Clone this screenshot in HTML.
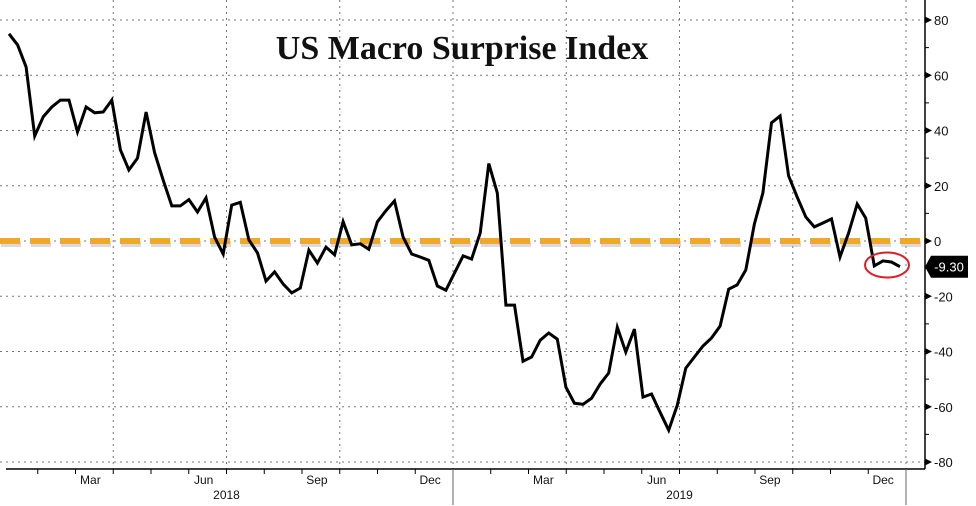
<!DOCTYPE html>
<html><head><meta charset="utf-8"><style>
body{margin:0;background:#fff}
svg{display:block;font-family:"Liberation Sans",sans-serif}
</style></head><body>
<svg id="chart" width="976" height="506" viewBox="0 0 976 506">
<g id="grid"></g>
<line x1="0" y1="241" x2="925" y2="241" stroke="#999" stroke-width="6" stroke-dasharray="20,10" opacity="0.35" transform="translate(1,3)"/>
<line x1="0" y1="241" x2="925" y2="241" stroke="#f0a828" stroke-width="6" stroke-dasharray="20,10"/>
<g id="series"></g>
<ellipse cx="887" cy="265" rx="22" ry="12.5" fill="none" stroke="#d8202a" stroke-width="2"/>
<text x="462" y="59" text-anchor="middle" font-family="Liberation Serif, serif" font-weight="bold" font-size="34" fill="#111">US Macro Surprise Index</text>
<g id="axes"></g>
</svg>
<script>
const weeks = [];
const values = [75,71,63,38,45,48.5,51,51,39.5,48.5,46.4,46.7,51,33,25.7,30,46.7,32,22,12.7,12.7,15,10.5,15.6,1.4,-4.7,13,14,0.4,-4.3,-14.5,-11.2,-15.6,-18.8,-17,-3.3,-8,-2.2,-5,7,-1.4,-1,-3,7,11,14.5,1.4,-4.7,-5.8,-7,-16.3,-17.8,-11.6,-5.4,-6.5,2.9,28,17.4,-23.2,-23.2,-43.5,-42,-35.9,-33.3,-35.5,-52.9,-58.7,-59.1,-56.9,-51.8,-47.8,-31.2,-40.2,-31.9,-56.5,-55.4,-62,-68.5,-59.4,-46,-42,-38,-35.1,-30.8,-17.4,-15.9,-10.5,6.2,17.4,42.8,45.3,23.6,15.9,8.7,5.1,6.5,8,-5.8,2.9,13.4,8.3,-9,-7.2,-7.6,-9.3];
for (let i = 0; i < values.length; i++) weeks.push(i);
const yTicks = [80,60,40,20,0,-20,-40,-60,-80];
const monthLabels = ["Mar","Jun","Sep","Dec","Mar","Jun","Sep","Dec"];
const monthLabelIdx = [2,5,8,11,14,17,20,23];
const yearLabels = ["2018","2019"];
const lastValue = "-9.30";

const NS = "http://www.w3.org/2000/svg";
const X0 = 0, MW = 37.75;
const xMonth = m => X0 + m * MW;
const xWeek = i => 9 + i * (891 / 104);
const y = v => 241 - v * 2.7625;
function mk(tag, attrs, parent) { const e = document.createElementNS(NS, tag); for (const k in attrs) e.setAttribute(k, attrs[k]); parent.appendChild(e); return e; }

const grid = document.getElementById('grid');
yTicks.forEach(t => {
  const l = mk('line', {x1:0, x2:925, y1:y(t), y2:y(t), stroke:'#777', 'stroke-width':1, 'stroke-dasharray':'2,4'}, grid);
  
  
});
for (let q = 1; q <= 8; q++) {
  const gx = xMonth(3 * q);
  const l = mk('line', {x1:gx, x2:gx, y1:0, y2:469, stroke:'#777', 'stroke-width':1, 'stroke-dasharray':'2,4'}, grid);
  
  
}

const series = document.getElementById('series');
const pts = weeks.map(i => xWeek(i).toFixed(1) + ',' + y(values[i]).toFixed(1)).join(' ');
const pl = mk('polyline', {points:pts, fill:'none', stroke:'#000', 'stroke-width':3, 'stroke-linejoin':'miter'}, series);



const axes = document.getElementById('axes');
const ya = mk('line', {x1:925, x2:925, y1:0, y2:469, stroke:'#000', 'stroke-width':1.5}, axes);


const xa = mk('line', {x1:6, x2:925, y1:469, y2:469, stroke:'#000', 'stroke-width':1.5}, axes);


yTicks.forEach(t => {
  const yy = y(t);
  const tri = mk('polygon', {points:`925,${yy-3.5} 932,${yy} 925,${yy+3.5}`, fill:'#000'}, axes);
  
  
  const tx = mk('text', {x:934, y:yy+5, 'font-size':13, fill:'#111'}, axes);
  tx.textContent = t;
  
  
  if (t > -80) {
    const m = mk('line', {x1:925, x2:929, y1:y(t - 10), y2:y(t - 10), stroke:'#000'}, axes);
    
    
  }
});
for (let m = 1; m < 25; m++) {
  const tk = mk('line', {x1:xMonth(m), x2:xMonth(m), y1:469, y2:474, stroke:'#000'}, axes);
  
  
}
monthLabels.forEach((lab, i) => {
  const tx = mk('text', {x:xMonth(monthLabelIdx[i]) + MW/2 - 4, y:484, 'font-size':12, 'text-anchor':'middle', fill:'#111'}, axes);
  tx.textContent = lab;
  
  
});
yearLabels.forEach((lab, i) => {
  const tx = mk('text', {x:xMonth(12 * i + 6), y:499, 'font-size':12, 'text-anchor':'middle', fill:'#111'}, axes);
  tx.textContent = lab;
  
  
  const sep = mk('line', {x1:xMonth(12 * (i + 1)), x2:xMonth(12 * (i + 1)), y1:469, y2:505, stroke:'#666'}, axes);
  
  
});
const ly = y(values[values.length - 1]);
const box = mk('polygon', {points:`925,${ly} 931,${ly-11} 968,${ly-11} 968,${ly+11} 931,${ly+11}`, fill:'#000'}, axes);


const lt = mk('text', {x:949, y:ly+5, 'font-size':13, 'text-anchor':'middle', fill:'#fff'}, axes);
lt.textContent = lastValue;


</script>
</body></html>
